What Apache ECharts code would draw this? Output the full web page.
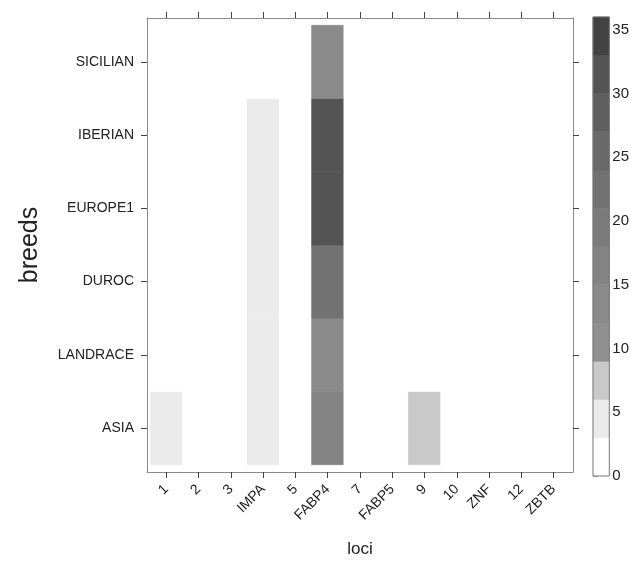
<!DOCTYPE html>
<html>
<head>
<meta charset="utf-8">
<script src="https://cdn.jsdelivr.net/npm/echarts@6/dist/echarts.min.js"></script>
<style>
html,body{margin:0;padding:0;background:#fff;}
#chart{width:632px;height:563px;}
</style>
</head>
<body>
<div id="chart"></div>
<script>
// ---- data ----
var loci = ['1','2','3','IMPA','5','FABP4','7','FABP5','9','10','ZNF','12','ZBTB'];
var breeds = ['ASIA','LANDRACE','DUROC','EUROPE1','IBERIAN','SICILIAN'];
var valASIA     = [4,0,0,4,0,16,0,0,7,0,0,0,0];
var valLANDRACE = [0,0,0,4,0,13,0,0,0,0,0,0,0];
var valDUROC    = [0,0,0,4,0,23,0,0,0,0,0,0,0];
var valEUROPE1  = [0,0,0,4,0,31,0,0,0,0,0,0,0];
var valIBERIAN  = [0,0,0,4,0,31,0,0,0,0,0,0,0];
var valSICILIAN = [0,0,0,0,0,13,0,0,0,0,0,0,0];
var bandBreaks = [0,3,6,9,12,15,18,21,24,27,30,33,36];
var bandColors = ['#ffffff','#ebebeb','#c9c9c9','#909090','#8a8a8a','#838383','#7b7b7b','#727272','#696969','#5f5f5f','#545454','#424242'];
var colorbarTicks = [0,5,10,15,20,25,30,35];

// ---- build ----
var rows = [valASIA,valLANDRACE,valDUROC,valEUROPE1,valIBERIAN,valSICILIAN];
var cells = [];
rows.forEach(function(r, yi){ r.forEach(function(v, xi){ cells.push([xi+1, yi+1, v]); }); });
var pieces = [];
for (var i=0;i<bandColors.length;i++){ pieces.push({gte: bandBreaks[i], lt: bandBreaks[i+1], color: bandColors[i]}); }
var bands = [];
for (var j=0;j<bandColors.length;j++){ bands.push([bandBreaks[j], bandBreaks[j+1], j]); }
var xIdx = loci.map(function(_,i){return i+1;});
var yIdx = breeds.map(function(_,i){return i+1;});
var FONT = 'Liberation Sans, Arial, sans-serif';
var lineC = '#8a8a8a', tickC = '#444';

var chart = echarts.init(document.getElementById('chart'), null, {renderer:'canvas'});
chart.setOption({
  animation:false,
  backgroundColor:'#fff',
  textStyle:{fontFamily:FONT},
  grid:[
    {left:147, right:59, top:18, bottom:90},
    {left:593, width:19, top:17, bottom:87, show:true, z:10, borderColor:'#777', borderWidth:1, backgroundColor:'transparent'}
  ],
  visualMap:{show:false, type:'piecewise', seriesIndex:0, dimension:2, pieces:pieces},
  xAxis:[
    {type:'value', gridIndex:0, position:'bottom', min:0.4, max:13.6,
     splitLine:{show:false},
     axisLine:{lineStyle:{color:lineC}},
     axisTick:{customValues:xIdx, length:6, lineStyle:{color:tickC}},
     axisLabel:{customValues:xIdx, rotate:45, margin:15, color:'#222', fontSize:14, fontFamily:FONT,
       formatter:function(v){return loci[Math.round(v)-1];}},
     name:'loci', nameLocation:'middle', nameGap:69, nameTextStyle:{fontSize:17, color:'#222', fontFamily:FONT}},
    {type:'value', gridIndex:0, position:'top', min:0.4, max:13.6,
     splitLine:{show:false},
     axisLine:{lineStyle:{color:lineC}},
     axisTick:{customValues:xIdx, length:6, lineStyle:{color:tickC}},
     axisLabel:{show:false}},
    {type:'value', gridIndex:1, min:0, max:1, show:false}
  ],
  yAxis:[
    {type:'value', gridIndex:0, position:'left', min:0.4, max:6.6,
     splitLine:{show:false},
     axisLine:{lineStyle:{color:lineC}},
     axisTick:{customValues:yIdx, length:6, lineStyle:{color:tickC}},
     axisLabel:{customValues:yIdx, margin:13, color:'#222', fontSize:14, fontFamily:FONT,
       formatter:function(v){return breeds[Math.round(v)-1];}},
     name:'breeds', nameLocation:'middle', nameRotate:90, nameGap:104, nameTextStyle:{fontSize:25, color:'#222', fontFamily:FONT}},
    {type:'value', gridIndex:0, position:'right', min:0.4, max:6.6,
     splitLine:{show:false},
     axisLine:{lineStyle:{color:lineC}},
     axisTick:{customValues:yIdx, length:6, lineStyle:{color:tickC}},
     axisLabel:{show:false}},
    {type:'value', gridIndex:1, position:'right', min:0, max:36,
     splitLine:{show:false},
     axisLine:{show:false},
     axisTick:{customValues:colorbarTicks, length:5, lineStyle:{color:'#777'}},
     axisLabel:{customValues:colorbarTicks, margin:3, color:'#222', fontSize:15, fontFamily:FONT}}
  ],
  series:[
    {type:'custom', xAxisIndex:0, yAxisIndex:0, data:cells,
     renderItem:function(params, api){
       var x = api.value(0), y = api.value(1);
       var p0 = api.coord([x-0.5, y+0.5]);
       var p1 = api.coord([x+0.5, y-0.5]);
       var c = api.visual('color');
       return {type:'rect', shape:{x:p0[0], y:p0[1], width:p1[0]-p0[0], height:p1[1]-p0[1]},
               style:{fill:c, stroke:c, lineWidth:0.6}};
     }},
    {type:'custom', xAxisIndex:2, yAxisIndex:2, data:bands,
     renderItem:function(params, api){
       var lo = api.value(0), hi = api.value(1), k = api.value(2);
       var p0 = api.coord([0, hi]);
       var p1 = api.coord([1, lo]);
       return {type:'rect', shape:{x:p0[0], y:p0[1], width:p1[0]-p0[0], height:p1[1]-p0[1]},
               style:{fill:bandColors[k], stroke:bandColors[k], lineWidth:0.6}};
     }}
  ]
});
</script>
</body>
</html>
